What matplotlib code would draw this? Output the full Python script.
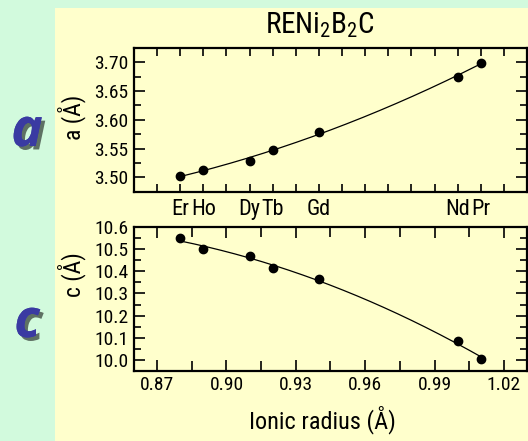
import numpy as np
import matplotlib
matplotlib.use("Agg")
import matplotlib.pyplot as plt
import matplotlib.patheffects as pe
from matplotlib import font_manager
from matplotlib.patches import Rectangle
from matplotlib.ticker import MultipleLocator, FormatStrFormatter

# Lattice parameters of the RENi2B2C borocarbides vs. rare-earth ionic radius
elements = ["Er", "Ho", "Dy", "Tb", "Gd", "Nd", "Pr"]
ionic_radius = [0.880, 0.890, 0.910, 0.920, 0.940, 1.000, 1.010]
a_param = [3.502, 3.513, 3.529, 3.547, 3.579, 3.674, 3.699]
c_param = [10.550, 10.501, 10.468, 10.416, 10.364, 10.083, 10.003]


def pick_font(names):
    have = {f.name for f in font_manager.fontManager.ttflist}
    for n in names:
        if n in have:
            return n
    return "DejaVu Sans"


narrow = pick_font(["Liberation Sans Narrow", "DejaVu Sans Condensed",
                    "Roboto Condensed", "Liberation Sans"])
plt.rcParams["font.family"] = [narrow, "DejaVu Sans"]
plt.rcParams["mathtext.default"] = "regular"

W, H = 528, 441
fig = plt.figure(figsize=(W / 100, H / 100), dpi=100, facecolor="#d2fadd")
fig.patches.append(Rectangle((55 / W, 0), 1 - 55 / W, 1 - 8 / H,
                             transform=fig.transFigure, facecolor="#ffffcc",
                             edgecolor="none", zorder=-1))


def frac(x0, y_top, x1, y_bot):
    return [x0 / W, 1 - y_bot / H, (x1 - x0) / W, (y_bot - y_top) / H]


ax_a = fig.add_axes(frac(134, 47.7, 527, 191.7))
ax_c = fig.add_axes(frac(134, 227.3, 527, 370.7))

x = np.array(ionic_radius)
xs = np.linspace(x.min(), x.max(), 200)

for ax, y in ((ax_a, a_param), (ax_c, c_param)):
    ax.set_facecolor("none")
    fit = np.polyfit(x, y, 2)
    ax.plot(xs, np.polyval(fit, xs), color="black", lw=0.9)
    ax.plot(x, y, "o", color="black", ms=6)
    ax.set_xlim(0.86, 1.03)
    ax.tick_params(which="both", direction="in", top=True, right=True,
                   width=1.2, labelsize=14, pad=4)
    ax.tick_params(which="major", length=8)
    ax.tick_params(which="minor", length=5)
    for s in ax.spines.values():
        s.set_linewidth(1.6)

# top panel: a parameter, rare-earth names instead of numbers on x
ax_a.set_ylim(3.475, 3.725)
ax_a.yaxis.set_major_locator(MultipleLocator(0.05))
ax_a.yaxis.set_minor_locator(MultipleLocator(0.025))
ax_a.yaxis.set_major_formatter(FormatStrFormatter("%.2f"))
ax_a.xaxis.set_major_locator(MultipleLocator(0.01))
ax_a.tick_params(axis="x", which="major", length=6)
ax_a.set_xticklabels([])
for name, xr in zip(elements, ionic_radius):
    ax_a.annotate(name, xy=(xr, 0), xycoords=("data", "axes fraction"),
                  xytext=(0, -5.5), textcoords="offset points",
                  ha="center", va="top", fontsize=16)

# bottom panel: c parameter
ax_c.set_ylim(9.95, 10.6)
ax_c.yaxis.set_major_locator(MultipleLocator(0.1))
ax_c.yaxis.set_minor_locator(MultipleLocator(0.05))
ax_c.yaxis.set_major_formatter(FormatStrFormatter("%.1f"))
ax_c.xaxis.set_major_locator(MultipleLocator(0.03))
ax_c.xaxis.set_minor_locator(MultipleLocator(0.015))
ax_c.xaxis.set_major_formatter(FormatStrFormatter("%.2f"))
ax_c.tick_params(axis="x", which="minor", length=7)

fig.text(320 / W, 1 - 25 / H, "RENi$_2$B$_2$C", ha="center", va="center",
         fontsize=21)
fig.text(72 / W, 1 - 117 / H, "a (Å)", rotation=90, ha="center",
         va="center", fontsize=17)
fig.text(72 / W, 1 - 275 / H, "c (Å)", rotation=90, ha="center",
         va="center", fontsize=17)
fig.text(322 / W, 1 - 420 / H, "Ionic radius (Å)", ha="center",
         va="center", fontsize=17.5)

# big panel letters with drop shadow
shadow = [pe.withSimplePatchShadow(offset=(2.5, -2.5), shadow_rgbFace="black",
                                   alpha=0.55), pe.Normal()]
big = pick_font(["Open Sans", "Noto Sans", "DejaVu Sans"])
for letter, yc in (("a", 132), ("c", 323)):
    fig.text(27 / W, 1 - yc / H, letter, ha="center", va="center",
             fontsize=38, fontweight="bold", fontstyle="italic",
             family=big, color="#3a3aa2", path_effects=shadow)

fig.savefig("out.png", dpi=100, facecolor=fig.get_facecolor())
